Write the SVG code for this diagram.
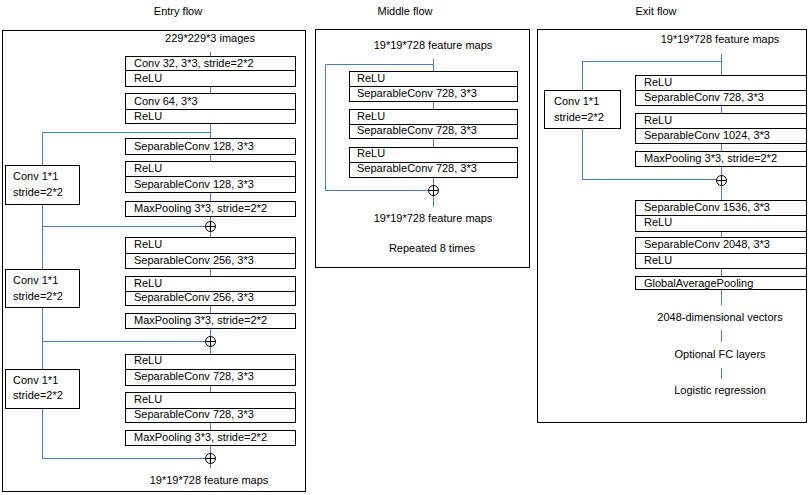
<svg xmlns="http://www.w3.org/2000/svg" width="809" height="495" viewBox="0 0 809 495">
<style>
text{font-family:"Liberation Sans",Arial,sans-serif;font-size:11px;fill:#000}
.c{text-anchor:middle}
.frame{fill:#fff;stroke:#000;stroke-width:1}
.box{fill:#fff;stroke:#000;stroke-width:1}
.div{stroke:#000;stroke-width:1}
.ln{fill:none;stroke:#4a7ebb;stroke-width:1}
.plus{fill:#fff;stroke:#000;stroke-width:1}
</style>
<defs>
<g id="add"><circle r="5" class="plus"/><path d="M-5,0H5M0,-5V5" stroke="#000" stroke-width="1"/></g>
</defs>
<rect width="809" height="495" fill="#fff"/>
<!-- frames -->
<rect class="frame" x="2.5" y="30.5" width="303" height="461"/>
<rect class="frame" x="315.5" y="29.5" width="214" height="238"/>
<rect class="frame" x="537.5" y="29.5" width="269" height="393"/>
<text class="c" x="178" y="15">Entry flow</text>
<text class="c" x="405" y="15">Middle flow</text>
<text class="c" x="656" y="15">Exit flow</text>
<g id="connectors">
<!-- entry -->
<path class="ln" d="M210.5,52V468"/>
<path class="ln" d="M210.5,132.5H42.5V458.5H210"/>
<path class="ln" d="M42.5,226.5H210M42.5,341.5H210"/>
<!-- middle -->
<path class="ln" d="M433.5,59V207"/>
<path class="ln" d="M433.5,64.5H325.5V190.5H433"/>
<!-- exit -->
<path class="ln" d="M721.5,54V289M721.5,289V305M721.5,330V342M721.5,368V379"/>
<path class="ln" d="M721.5,61.5H582.5V179.5H721"/>
</g>
<!-- Entry flow -->
<text class="c" x="210" y="42">229*229*3 images</text>
<g id="e-conv32"><rect class="box" x="125.5" y="56.5" width="170" height="30"/><path class="div" d="M125,70.5H296"/><text x="134" y="67">Conv 32, 3*3, stride=2*2</text><text x="134" y="82">ReLU</text></g>
<g id="e-conv64"><rect class="box" x="125.5" y="93.5" width="170" height="30"/><path class="div" d="M125,109.5H296"/><text x="134" y="105">Conv 64, 3*3</text><text x="134" y="120">ReLU</text></g>
<g id="e-sep128a"><rect class="box" x="125.5" y="138.5" width="170" height="16"/><text x="134" y="150">SeparableConv 128, 3*3</text></g>
<g id="e-sep128b"><rect class="box" x="125.5" y="161.5" width="170" height="31"/><path class="div" d="M125,176.5H296"/><text x="134" y="172">ReLU</text><text x="134" y="188">SeparableConv 128, 3*3</text></g>
<g id="e-mp1"><rect class="box" x="125.5" y="201.5" width="170" height="15"/><text x="134" y="212">MaxPooling 3*3, stride=2*2</text></g>
<g id="e-res1"><rect class="box" x="5.5" y="165.5" width="74" height="39"/><text x="13" y="180">Conv 1*1</text><text x="13" y="196">stride=2*2</text></g>
<use href="#add" x="210.5" y="226.5"/>
<g id="e-sep256a"><rect class="box" x="125.5" y="237.5" width="170" height="31"/><path class="div" d="M125,253.5H296"/><text x="134" y="248">ReLU</text><text x="134" y="264">SeparableConv 256, 3*3</text></g>
<g id="e-sep256b"><rect class="box" x="125.5" y="276.5" width="170" height="29"/><path class="div" d="M125,291.5H296"/><text x="134" y="287">ReLU</text><text x="134" y="301">SeparableConv 256, 3*3</text></g>
<g id="e-mp2"><rect class="box" x="125.5" y="313.5" width="170" height="15"/><text x="134" y="324">MaxPooling 3*3, stride=2*2</text></g>
<g id="e-res2"><rect class="box" x="5.5" y="269.5" width="74" height="38"/><text x="13" y="284">Conv 1*1</text><text x="13" y="300">stride=2*2</text></g>
<use href="#add" x="210.5" y="341.5"/>
<g id="e-sep728a"><rect class="box" x="125.5" y="354.5" width="170" height="31"/><path class="div" d="M125,369.5H296"/><text x="134" y="364">ReLU</text><text x="134" y="380">SeparableConv 728, 3*3</text></g>
<g id="e-sep728b"><rect class="box" x="125.5" y="392.5" width="170" height="30"/><path class="div" d="M125,408.5H296"/><text x="134" y="403">ReLU</text><text x="134" y="418">SeparableConv 728, 3*3</text></g>
<g id="e-mp3"><rect class="box" x="125.5" y="430.5" width="170" height="15"/><text x="134" y="441">MaxPooling 3*3, stride=2*2</text></g>
<g id="e-res3"><rect class="box" x="5.5" y="369.5" width="74" height="39"/><text x="13" y="384">Conv 1*1</text><text x="13" y="399">stride=2*2</text></g>
<use href="#add" x="210.5" y="458.5"/>
<text class="c" x="209" y="484">19*19*728 feature maps</text>
<!-- Middle flow -->
<text class="c" x="433" y="49">19*19*728 feature maps</text>
<g id="m-1"><rect class="box" x="349.5" y="71.5" width="168" height="30"/><path class="div" d="M349,86.5H518"/><text x="357" y="82">ReLU</text><text x="357" y="97">SeparableConv 728, 3*3</text></g>
<g id="m-2"><rect class="box" x="349.5" y="109.5" width="168" height="29"/><path class="div" d="M349,124.5H518"/><text x="357" y="120">ReLU</text><text x="357" y="134">SeparableConv 728, 3*3</text></g>
<g id="m-3"><rect class="box" x="349.5" y="147.5" width="168" height="30"/><path class="div" d="M349,162.5H518"/><text x="357" y="157">ReLU</text><text x="357" y="172">SeparableConv 728, 3*3</text></g>
<use href="#add" x="433.5" y="190.5"/>
<text class="c" x="433" y="222">19*19*728 feature maps</text>
<text class="c" x="432" y="252">Repeated 8 times</text>
<!-- Exit flow -->
<text class="c" x="720" y="43">19*19*728 feature maps</text>
<g id="x-1"><rect class="box" x="635.5" y="75.5" width="171" height="30"/><path class="div" d="M635,90.5H807"/><text x="644" y="86">ReLU</text><text x="644" y="101">SeparableConv 728, 3*3</text></g>
<g id="x-2"><rect class="box" x="635.5" y="113.5" width="171" height="30"/><path class="div" d="M635,128.5H807"/><text x="644" y="124">ReLU</text><text x="644" y="139">SeparableConv 1024, 3*3</text></g>
<g id="x-mp"><rect class="box" x="635.5" y="151.5" width="171" height="15"/><text x="644" y="162">MaxPooling 3*3, stride=2*2</text></g>
<g id="x-res"><rect class="box" x="544.5" y="90.5" width="76" height="38"/><text x="554" y="105">Conv 1*1</text><text x="554" y="121">stride=2*2</text></g>
<use href="#add" x="721.5" y="180.5"/>
<g id="x-3"><rect class="box" x="635.5" y="200.5" width="171" height="31"/><path class="div" d="M635,215.5H807"/><text x="644" y="211">SeparableConv 1536, 3*3</text><text x="644" y="226">ReLU</text></g>
<g id="x-4"><rect class="box" x="635.5" y="237.5" width="171" height="31"/><path class="div" d="M635,253.5H807"/><text x="644" y="248">SeparableConv 2048, 3*3</text><text x="644" y="264">ReLU</text></g>
<g id="x-gap"><rect class="box" x="635.5" y="276.5" width="171" height="13"/><text x="644" y="287">GlobalAveragePooling</text></g>
<text class="c" x="720" y="321">2048-dimensional vectors</text>
<text class="c" x="720" y="358">Optional FC layers</text>
<text class="c" x="720" y="394">Logistic regression</text>
</svg>
